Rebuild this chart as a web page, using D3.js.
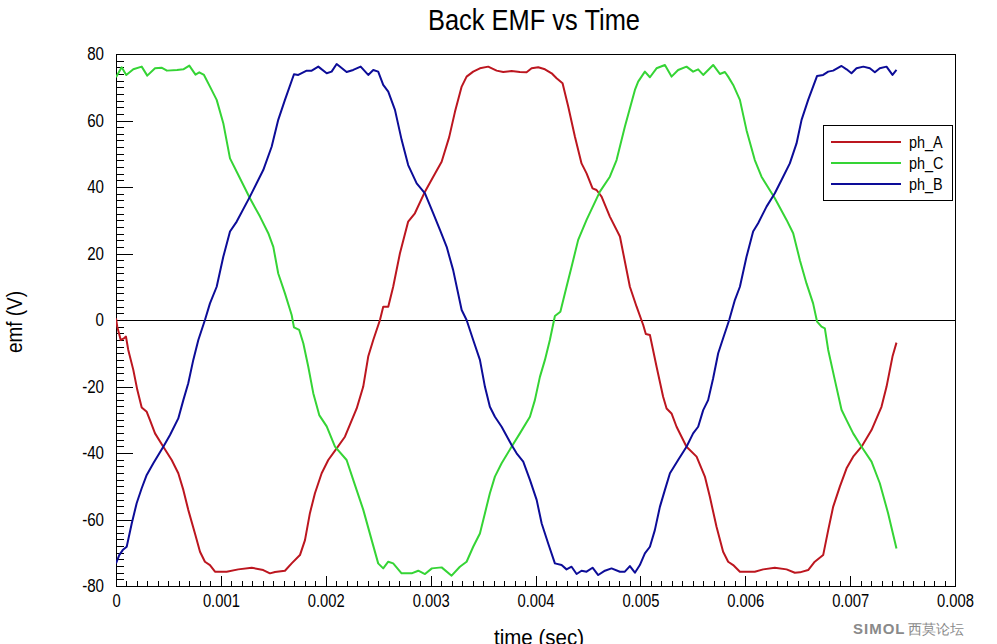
<!DOCTYPE html>
<html>
<head>
<meta charset="utf-8">
<script src="https://cdn.jsdelivr.net/npm/d3@7"></script>
<style>
  html, body { margin: 0; padding: 0; background: #ffffff; }
  svg { display: block; }
  text { font-family: "Liberation Sans", Arial, sans-serif; }
</style>
</head>
<body>
<svg id="chart" width="997" height="644"></svg>
<script>
// ---- data (time in ms, emf in V) ----
const seriesNames = ["ph_A", "ph_C", "ph_B"];
const seriesColors = ["#bc161f", "#35d435", "#0c0c98"];
const xTickLabels = ["0", "0.001", "0.002", "0.003", "0.004", "0.005", "0.006", "0.007", "0.008"];
const yTickValues = [-80, -60, -40, -20, 0, 20, 40, 60, 80];

const phA = [[0,0.5],[0.012,-2],[0.045,-6],[0.076,-5.5],[0.095,-5],[0.117,-9],[0.165,-15],[0.203,-21],[0.245,-26.3],[0.293,-27.6],[0.324,-30.1],[0.372,-34.1],[0.451,-38.1],[0.531,-42.1],[0.594,-46.1],[0.642,-51.1],[0.689,-57.1],[0.753,-64.2],[0.801,-69.7],[0.848,-72.7],[0.896,-73.7],[0.944,-75.7],[1.055,-75.7],[1.166,-75.0],[1.294,-74.5],[1.404,-75.2],[1.468,-76.2],[1.516,-75.8],[1.611,-75.4],[1.675,-73.2],[1.754,-70.7],[1.802,-66.2],[1.849,-58.1],[1.897,-52.1],[1.961,-46.1],[2.024,-42.1],[2.104,-38.6],[2.183,-35.1],[2.295,-26.6],[2.357,-20.1],[2.405,-11.0],[2.453,-6.0],[2.517,0],[2.548,4.0],[2.596,4.0],[2.643,10.0],[2.707,20.0],[2.786,29.6],[2.850,32.1],[2.946,38.6],[3.025,43.1],[3.105,47.6],[3.177,55.0],[3.232,62.6],[3.296,70.2],[3.343,73.2],[3.406,74.7],[3.470,75.7],[3.549,76.2],[3.629,75.0],[3.692,74.6],[3.772,74.9],[3.851,74.6],[3.915,74.5],[3.963,75.7],[4.026,76.0],[4.090,75.4],[4.154,74.2],[4.201,72.7],[4.258,71.2],[4.312,64.2],[4.376,55.1],[4.439,47.1],[4.487,44.1],[4.544,39.6],[4.582,39.1],[4.630,37.1],[4.709,31.1],[4.805,25.1],[4.900,10.0],[4.964,4.0],[5.027,-1.5],[5.052,-4.2],[5.091,-4.5],[5.154,-14.0],[5.217,-23.1],[5.250,-26.6],[5.297,-28.1],[5.345,-32.1],[5.440,-38.1],[5.536,-41.1],[5.615,-47.1],[5.662,-53.1],[5.726,-62.2],[5.789,-69.7],[5.837,-72.7],[5.885,-73.7],[5.949,-75.7],[6.091,-75.7],[6.171,-75.0],[6.282,-74.5],[6.394,-75.0],[6.473,-76.0],[6.521,-75.9],[6.600,-75.2],[6.663,-72.7],[6.743,-70.7],[6.791,-63.2],[6.838,-56.2],[6.902,-50.1],[6.966,-44.6],[7.029,-41.1],[7.109,-38.1],[7.204,-33.1],[7.299,-26.1],[7.347,-20.1],[7.404,-11.0],[7.442,-6.8]];

const phC = [[0,73.0],[0.054,76.0],[0.098,73.7],[0.165,75.4],[0.245,76.2],[0.298,73.5],[0.372,75.7],[0.434,75.9],[0.486,75.0],[0.582,75.2],[0.642,75.4],[0.699,76.5],[0.758,73.8],[0.794,74.5],[0.839,73.7],[0.896,70.2],[0.960,66.2],[1.023,59.2],[1.087,48.6],[1.151,44.6],[1.277,36.6],[1.373,31.1],[1.452,26.1],[1.500,22.0],[1.547,14.0],[1.611,8.0],[1.675,1.5],[1.697,-2.2],[1.747,-3.0],[1.786,-7.0],[1.833,-14.0],[1.881,-22.0],[1.938,-28.6],[2.009,-32.0],[2.088,-38.1],[2.199,-42.1],[2.262,-48.1],[2.358,-57.1],[2.438,-66.2],[2.500,-73.2],[2.548,-74.7],[2.596,-72.7],[2.643,-73.2],[2.723,-76.2],[2.819,-76.2],[2.882,-75.4],[2.946,-76.4],[3.012,-74.7],[3.105,-74.4],[3.200,-76.9],[3.279,-74.2],[3.343,-72.7],[3.406,-68.2],[3.470,-64.2],[3.518,-58.1],[3.565,-52.1],[3.613,-47.1],[3.677,-43.1],[3.772,-38.1],[3.851,-34.1],[3.947,-29.1],[3.994,-24.1],[4.042,-17.1],[4.090,-12.0],[4.137,-6.0],[4.185,1.2],[4.237,2.5],[4.296,10.0],[4.344,16.0],[4.407,24.1],[4.487,30.1],[4.614,38.6],[4.709,43.1],[4.773,48.1],[4.852,58.1],[4.948,69.2],[4.979,71.7],[5.043,74.7],[5.091,73.0],[5.154,75.7],[5.234,76.7],[5.297,73.2],[5.360,75.2],[5.440,76.2],[5.503,74.7],[5.551,75.4],[5.599,73.7],[5.694,76.7],[5.758,74.0],[5.806,74.6],[5.837,73.2],[5.885,70.7],[5.949,66.2],[6.012,57.1],[6.091,48.1],[6.155,43.1],[6.282,36.6],[6.394,30.1],[6.457,26.1],[6.521,18.0],[6.584,11.0],[6.647,5.0],[6.685,-0.5],[6.727,-2.0],[6.759,-2.5],[6.791,-9.0],[6.854,-18.0],[6.918,-27.0],[6.966,-30.1],[7.029,-34.1],[7.109,-38.1],[7.204,-42.6],[7.283,-49.1],[7.362,-58.1],[7.442,-68.7]];

const phB = [[0,-73.2],[0.031,-70.7],[0.064,-69.2],[0.102,-68.2],[0.150,-61.2],[0.197,-55.1],[0.245,-50.6],[0.293,-46.6],[0.356,-43.1],[0.451,-38.1],[0.515,-34.6],[0.594,-29.6],[0.642,-24.1],[0.689,-19.0],[0.737,-12.0],[0.785,-6.0],[0.848,0],[0.896,5.0],[0.960,10.0],[1.023,19.0],[1.087,26.6],[1.151,29.6],[1.277,37.1],[1.404,45.1],[1.484,52.1],[1.547,60.2],[1.611,66.2],[1.697,73.9],[1.738,73.7],[1.818,75.0],[1.866,75.0],[1.929,76.2],[2.009,74.2],[2.056,74.7],[2.104,77.0],[2.199,74.6],[2.262,75.2],[2.333,76.2],[2.405,73.7],[2.453,75.2],[2.500,74.7],[2.548,70.7],[2.596,68.7],[2.660,63.2],[2.724,54.1],[2.786,46.6],[2.867,41.1],[2.946,38.1],[3.025,32.1],[3.089,27.1],[3.153,22.0],[3.215,15.0],[3.296,3.0],[3.343,0],[3.406,-6.0],[3.470,-12.0],[3.518,-20.1],[3.565,-26.1],[3.613,-29.1],[3.677,-32.1],[3.772,-37.6],[3.820,-40.1],[3.883,-42.6],[3.947,-48.1],[4.011,-54.1],[4.059,-61.2],[4.121,-67.2],[4.185,-73.2],[4.249,-73.7],[4.296,-75.0],[4.344,-74.2],[4.392,-76.4],[4.439,-75.4],[4.487,-75.7],[4.544,-74.5],[4.598,-76.7],[4.662,-75.4],[4.725,-74.7],[4.805,-75.7],[4.852,-75.7],[4.900,-74.0],[4.948,-76.0],[4.995,-73.7],[5.043,-70.2],[5.091,-68.2],[5.138,-63.2],[5.186,-56.2],[5.234,-51.1],[5.282,-46.1],[5.360,-42.1],[5.440,-38.1],[5.503,-34.1],[5.551,-32.1],[5.599,-27.1],[5.646,-24.1],[5.694,-17.5],[5.742,-10.0],[5.789,-5.5],[5.847,0],[5.901,6.0],[5.949,10.0],[6.012,19.0],[6.075,26.6],[6.123,29.1],[6.203,34.1],[6.282,38.1],[6.346,42.1],[6.425,47.1],[6.489,53.1],[6.537,60.2],[6.600,66.2],[6.647,70.2],[6.685,73.4],[6.743,73.7],[6.791,74.7],[6.838,75.0],[6.918,76.4],[6.966,75.4],[7.013,74.2],[7.061,75.7],[7.126,76.2],[7.188,75.7],[7.236,74.5],[7.283,75.7],[7.347,76.2],[7.404,73.7],[7.442,75.2]];

const seriesData = [phA, phC, phB];

// ---- layout ----
const W = 997, H = 644;
const plot = { left: 116, right: 955, top: 54, bottom: 586 };

const svg = d3.select("#chart");
svg.append("rect").attr("width", W).attr("height", H).attr("fill", "#ffffff");

const x = d3.scaleLinear().domain([0, 0.008]).range([plot.left, plot.right]);
const y = d3.scaleLinear().domain([-80, 80]).range([plot.bottom, plot.top]);

// horizontally condense a text node (reference uses a narrow font)
function condense(node, factor) {
  const w = node.getComputedTextLength();
  node.setAttribute("textLength", (w * factor).toFixed(2));
  node.setAttribute("lengthAdjust", "spacingAndGlyphs");
}

// title
svg.append("text")
  .attr("x", 534).attr("y", 30)
  .attr("text-anchor", "middle")
  .attr("font-size", 30)
  .attr("fill", "#000")
  .text("Back EMF vs Time")
  .each(function () { this.setAttribute("textLength", 212); this.setAttribute("lengthAdjust", "spacingAndGlyphs"); });

// zero line
svg.append("line")
  .attr("x1", plot.left).attr("x2", plot.right)
  .attr("y1", y(0)).attr("y2", y(0))
  .attr("stroke", "#000").attr("stroke-width", 1)
  .attr("shape-rendering", "crispEdges");

// y axis minor ticks
const yMinor = d3.range(-80, 80.01, 2);
svg.append("g")
  .attr("transform", `translate(${plot.left},0)`)
  .call(d3.axisLeft(y).tickValues(yMinor).tickSize(-8).tickFormat(""))
  .call(g => g.select(".domain").remove())
  .call(g => g.selectAll("line").attr("stroke", "#000").attr("shape-rendering", "crispEdges"));

// y axis major ticks with labels
svg.append("g")
  .attr("transform", `translate(${plot.left},0)`)
  .call(d3.axisLeft(y).tickValues(yTickValues).tickSizeInner(-17).tickSizeOuter(0).tickPadding(12)
        .tickFormat(d => String(d)))
  .call(g => g.select(".domain").remove())
  .call(g => g.selectAll("line").attr("stroke", "#000").attr("shape-rendering", "crispEdges"))
  .call(g => g.selectAll("text").attr("font-size", 18).attr("fill", "#000")
        .attr("font-family", '"Liberation Sans", Arial, sans-serif')
        .each(function () { condense(this, 0.84); }));

// x axis minor ticks
const xMinor = d3.range(0, 81).map(i => i * 0.0001);
svg.append("g")
  .attr("transform", `translate(0,${plot.bottom})`)
  .call(d3.axisBottom(x).tickValues(xMinor).tickSize(-5).tickFormat(""))
  .call(g => g.select(".domain").remove())
  .call(g => g.selectAll("line").attr("stroke", "#000").attr("shape-rendering", "crispEdges"));

// x axis major ticks with labels
const xMajor = xTickLabels.map(s => +s);
svg.append("g")
  .attr("transform", `translate(0,${plot.bottom})`)
  .call(d3.axisBottom(x).tickValues(xMajor).tickSizeInner(-10).tickSizeOuter(0).tickPadding(8)
        .tickFormat((d, i) => xTickLabels[i]))
  .call(g => g.select(".domain").remove())
  .call(g => g.selectAll("line").attr("stroke", "#000").attr("shape-rendering", "crispEdges"))
  .call(g => g.selectAll("text").attr("font-size", 18).attr("fill", "#000")
        .attr("font-family", '"Liberation Sans", Arial, sans-serif')
        .each(function () { condense(this, 0.82); }));

// frame
svg.append("rect")
  .attr("x", plot.left + 0.5).attr("y", plot.top + 0.5)
  .attr("width", plot.right - plot.left).attr("height", plot.bottom - plot.top)
  .attr("fill", "none").attr("stroke", "#000").attr("stroke-width", 1);

// lines
const line = d3.line().x(d => x(d[0] / 1000)).y(d => y(d[1]));
svg.append("clipPath").attr("id", "clip").append("rect")
  .attr("x", plot.left).attr("y", plot.top)
  .attr("width", plot.right - plot.left).attr("height", plot.bottom - plot.top);
const gLines = svg.append("g").attr("clip-path", "url(#clip)");
seriesData.forEach((s, i) => {
  gLines.append("path")
    .datum(s)
    .attr("d", line)
    .attr("fill", "none")
    .attr("stroke", seriesColors[i])
    .attr("stroke-width", 2)
    .attr("stroke-linejoin", "round");
});

// legend
const lg = svg.append("g");
lg.append("rect")
  .attr("x", 823.5).attr("y", 125.5).attr("width", 129).attr("height", 75)
  .attr("fill", "#fff").attr("stroke", "#000").attr("stroke-width", 1);
seriesNames.forEach((name, i) => {
  const yy = 142 + i * 21;
  lg.append("line")
    .attr("x1", 831).attr("x2", 901).attr("y1", yy).attr("y2", yy)
    .attr("stroke", seriesColors[i]).attr("stroke-width", 2);
  lg.append("text")
    .attr("x", 909).attr("y", yy + 6)
    .attr("font-size", 16).attr("fill", "#000")
    .text(name)
    .each(function () { condense(this, 0.9); });
});

// axis titles
svg.append("text")
  .attr("x", 539).attr("y", 645)
  .attr("text-anchor", "middle")
  .attr("font-size", 22).attr("fill", "#000")
  .text("time (sec)")
  .each(function () { this.setAttribute("textLength", 90); this.setAttribute("lengthAdjust", "spacingAndGlyphs"); });

svg.append("text")
  .attr("transform", "translate(22,322) rotate(-90)")
  .attr("text-anchor", "middle")
  .attr("font-size", 22).attr("fill", "#000")
  .text("emf (V)")
  .each(function () { this.setAttribute("textLength", 62); this.setAttribute("lengthAdjust", "spacingAndGlyphs"); });

// watermark
const wm = svg.append("g").attr("fill", "#8a8a8a");
wm.append("text")
  .attr("x", 853).attr("y", 634)
  .attr("font-size", 15).attr("font-weight", "bold")
  .attr("font-family", "Verdana, 'DejaVu Sans', sans-serif")
  .attr("letter-spacing", 1)
  .text("SIMOL");
wm.append("text")
  .attr("x", 908).attr("y", 634)
  .attr("font-size", 14)
  .attr("font-family", '"Noto Sans CJK SC", sans-serif')
  .text("西莫论坛");
</script>
</body>
</html>
